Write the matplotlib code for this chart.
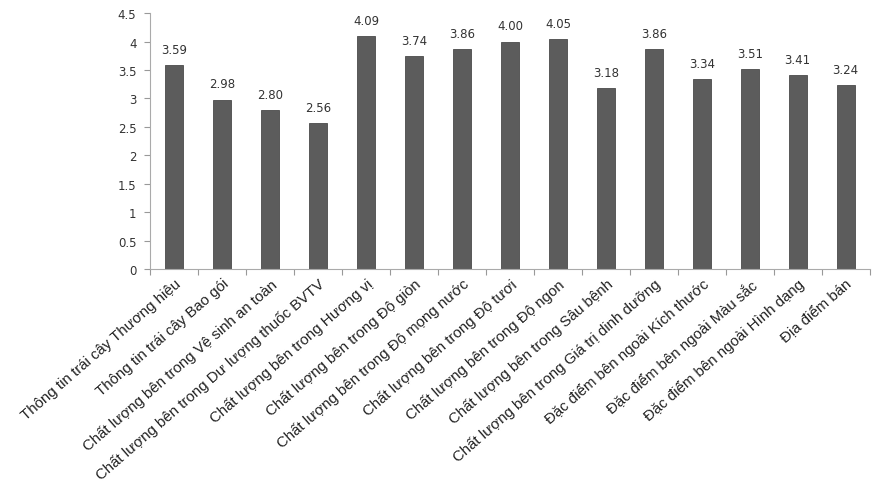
import numpy as np
import matplotlib
matplotlib.use("Agg")
import matplotlib.pyplot as plt

# category labels and mean scores
categories = [
    "Thông tin trái cây Thương hiệu",
    "Thông tin trái cây Bao gói",
    "Chất lượng bên trong Vệ sinh an toàn",
    "Chất lượng bên trong Dư lượng thuốc BVTV",
    "Chất lượng bên trong Hương vị",
    "Chất lượng bên trong Độ giòn",
    "Chất lượng bên trong Độ mọng nước",
    "Chất lượng bên trong Độ tươi",
    "Chất lượng bên trong Độ ngon",
    "Chất lượng bên trong Sâu bệnh",
    "Chất lượng bên trong Giá trị dinh dưỡng",
    "Đặc điểm bên ngoài Kích thước",
    "Đặc điểm bên ngoài Màu sắc",
    "Đặc điểm bên ngoài Hình dạng",
    "Địa điểm bán",
]
scores = [3.59, 2.98, 2.80, 2.56, 4.09, 3.74, 3.86, 4.00, 4.05,
          3.18, 3.86, 3.34, 3.51, 3.41, 3.24]
yticks = [0, 0.5, 1, 1.5, 2, 2.5, 3, 3.5, 4, 4.5]
ytick_labels = ["0", "0.5", "1", "1.5", "2", "2.5", "3", "3.5", "4", "4.5"]

fig = plt.figure(figsize=(8.74, 4.85), dpi=100)
ax = fig.add_axes([0.172, 0.443, 0.823, 0.528])

x = np.arange(len(categories))
bars = ax.bar(x, scores, width=0.38, color="#5c5c5c", edgecolor="#4a4a4a",
              linewidth=0.6, zorder=2)

# value labels above bars
for xi, v in zip(x, scores):
    ax.text(xi, v + 0.16, "%.2f" % v, ha="center", va="bottom",
            fontsize=8.5, family="DejaVu Sans", color="#333333")

ax.set_xlim(-0.5, len(categories) - 0.5)
ax.set_ylim(0, 4.5)
ax.set_yticks(yticks)
ax.set_yticklabels(ytick_labels, fontsize=8.5, family="DejaVu Sans", color="#333333")

# ticks between categories on the x axis
ax.set_xticks(np.arange(-0.5, len(categories), 1.0), minor=True)
ax.set_xticks(x)
ax.set_xticklabels(categories, rotation=41, ha="right", rotation_mode="anchor",
                   fontsize=10.8, family="Liberation Sans", color="#222222")
ax.tick_params(axis="x", which="major", length=0, pad=5)
ax.tick_params(axis="x", which="minor", length=4, color="#999999", width=0.8)
ax.tick_params(axis="y", length=4, color="#999999", width=0.8, pad=6)

for s in ["top", "right"]:
    ax.spines[s].set_visible(False)
ax.spines["left"].set_color("#aaaaaa")
ax.spines["bottom"].set_color("#aaaaaa")

fig.savefig("out.png", dpi=100)
